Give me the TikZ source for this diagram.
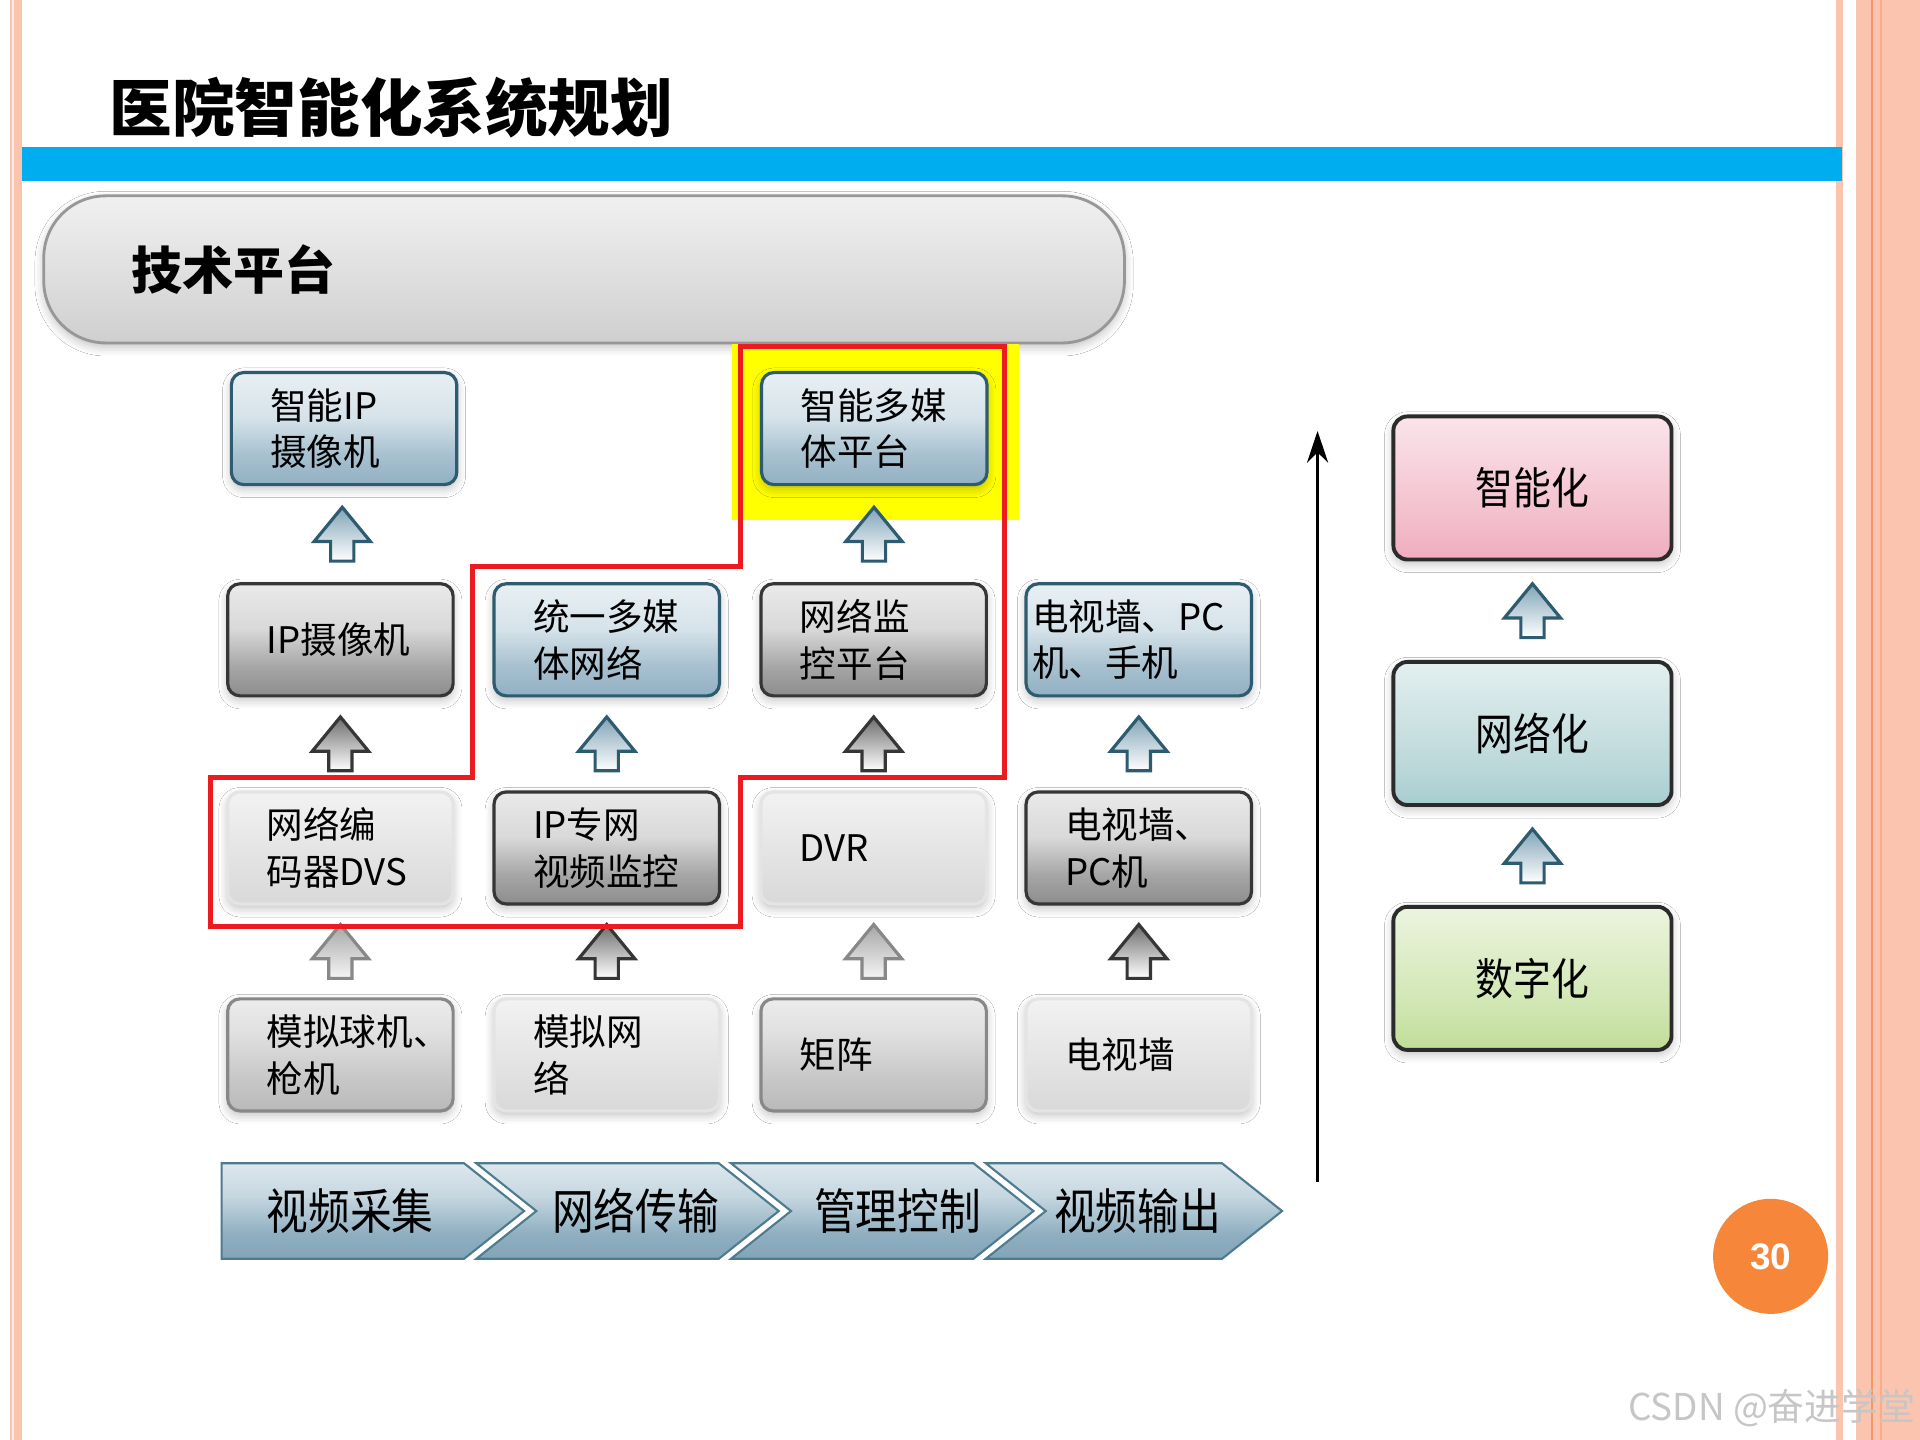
\documentclass[tikz,border=0pt]{standalone}
\usepackage{fontspec}
\setmainfont{Noto Sans CJK SC}
\newfontfamily\cjk{Noto Sans CJK SC}
\newfontfamily\cjkcond[FakeStretch=0.86]{Noto Sans CJK SC}
\newfontfamily\latinsans{Liberation Sans}
\usetikzlibrary{calc,shadows.blur,arrows.meta}

\definecolor{pinkstripe}{HTML}{FBC4AE}
\definecolor{orangeline}{HTML}{F4986A}
\definecolor{barblue}{HTML}{00AEEF}
\definecolor{bluedk}{HTML}{6A93AA}
\definecolor{bluemd}{HTML}{A6C0CF}
\definecolor{bluelt}{HTML}{D6E3EA}
\definecolor{blueborder}{HTML}{2D5B6F}
\definecolor{graydk}{HTML}{5C5C5C}
\definecolor{graymd}{HTML}{A6A6A6}
\definecolor{graylt}{HTML}{D9D9D9}
\definecolor{grayborder}{HTML}{363636}
\definecolor{lightdk}{HTML}{CDCDCD}
\definecolor{lightmd}{HTML}{E0E0E0}
\definecolor{lightborder}{HTML}{E4E4E4}
\definecolor{meddk}{HTML}{A0A0A0}
\definecolor{medmd}{HTML}{C8C8C8}
\definecolor{medborder}{HTML}{888888}
\definecolor{pinkdk}{HTML}{EA8EA8}
\definecolor{pinkmd}{HTML}{F3BFCD}
\definecolor{tealdk}{HTML}{85BABE}
\definecolor{tealmd}{HTML}{BDD9DA}
\definecolor{greendk}{HTML}{A6CF6C}
\definecolor{greenmd}{HTML}{D0E6B2}
\definecolor{capdk}{HTML}{BDBDBD}
\definecolor{capmd}{HTML}{D6D6D6}
\definecolor{caplt}{HTML}{EAEAEA}
\definecolor{chevdk}{HTML}{6990A6}
\definecolor{chevmd}{HTML}{8FAFC1}
\definecolor{chevlt}{HTML}{C6D7E1}
\definecolor{chevborder}{HTML}{4E7B8E}
\definecolor{orangecirc}{HTML}{F6873A}
\definecolor{yellowhl}{HTML}{FFFF00}
\definecolor{redline}{HTML}{EC1B1F}
\definecolor{rightborder}{HTML}{2B2B2B}

\pgfdeclareverticalshading{glossblue}{100bp}{color(0bp)=(bluedk); color(38bp)=(bluemd); color(55bp)=(bluelt); color(100bp)=(white)}
\pgfdeclareverticalshading{glossdark}{100bp}{color(0bp)=(graydk); color(38bp)=(graymd); color(55bp)=(graylt); color(100bp)=(white)}
\pgfdeclareverticalshading{glosslight}{100bp}{color(0bp)=(lightdk); color(40bp)=(lightmd); color(100bp)=(white)}
\pgfdeclareverticalshading{glossmed}{100bp}{color(0bp)=(meddk); color(40bp)=(medmd); color(60bp)=(lightmd); color(100bp)=(white)}
\pgfdeclareverticalshading{glosspink}{100bp}{color(0bp)=(pinkdk); color(40bp)=(pinkmd); color(100bp)=(white)}
\pgfdeclareverticalshading{glossteal}{100bp}{color(0bp)=(tealdk); color(40bp)=(tealmd); color(100bp)=(white)}
\pgfdeclareverticalshading{glossgreen}{100bp}{color(0bp)=(greendk); color(40bp)=(greenmd); color(100bp)=(white)}
\pgfdeclareverticalshading{glosscap}{100bp}{color(0bp)=(capdk); color(35bp)=(capmd); color(65bp)=(caplt); color(100bp)=(white)}
\pgfdeclareverticalshading{glosschev}{100bp}{color(0bp)=(chevdk); color(38bp)=(chevmd); color(58bp)=(chevlt); color(100bp)=(white)}

\tikzset{
  softshadow/.style={blur shadow={shadow blur steps=6, shadow xshift=0pt, shadow yshift=-1.2pt, shadow opacity=25, shadow blur radius=2.5pt}},
  gbox/.style={rectangle, rounded corners=3.5pt, minimum width=2.253cm, minimum height=1.12cm,
    inner xsep=0.39cm, inner ysep=0pt, text width=1.473cm, align=left,
    font=\cjk\fontsize{10.4}{13.2}\selectfont, line width=0.9pt, softshadow},
  bluebox/.style={gbox, draw=blueborder, shading=glossblue},
  darkbox/.style={gbox, draw=grayborder, shading=glossdark},
  lightbox/.style={gbox, draw=lightborder, shading=glosslight},
  medbox/.style={gbox, draw=medborder, shading=glossmed},
  rbox/.style={rectangle, rounded corners=4pt, minimum width=2.78cm, minimum height=1.43cm,
    draw=rightborder, line width=1.1pt, softshadow, font=\cjkcond\fontsize{12.5}{14}\selectfont},
  bluearrow/.style={draw=blueborder, line width=0.9pt, top color=bluedk!85, bottom color=white, line join=miter},
  darkarrow/.style={draw=grayborder, line width=0.9pt, top color=graydk!90, bottom color=white, line join=miter},
  lightarrow/.style={draw=medborder, line width=0.9pt, top color=graymd, bottom color=white!96!black, line join=miter},
  chev/.style={shading=glosschev, draw=chevborder, line width=0.6pt},
  chevtext/.style={font=\cjkcond\fontsize{13.8}{15}\selectfont, inner sep=0pt},
  redpath/.style={draw=redline, line width=1.4pt, line join=miter},
}

\newcommand{\blockarrow}[3]{%
  \coordinate (mid) at ($(#1.north)!0.5!(#2.south)$);
  \path[#3] ($(mid)+(-9.5,22)$) -- ($(mid)+(-9.5,6)$) -- ($(mid)+(-23,6)$) -- ($(mid)+(0,-22)$)
    -- ($(mid)+(23,6)$) -- ($(mid)+(9.5,6)$) -- ($(mid)+(9.5,22)$) -- cycle;}

\begin{document}
\begin{tikzpicture}[x=0.012245cm, y=-0.012245cm]
\useasboundingbox (0,0) rectangle (1568,1176);
\fill[white] (0,0) rectangle (1568,1176);

% side stripes
\fill[pinkstripe] (8,0) rectangle (18,1176);
\draw[white!70!pinkstripe, line width=0.4pt] (10.5,0) -- (10.5,1176);
\fill[pinkstripe] (1499,0) rectangle (1505,1176);
\fill[pinkstripe] (1516,0) rectangle (1568,1176);
\draw[orangeline, line width=0.6pt] (1529,0) -- (1529,1176);
\draw[orangeline!50!pinkstripe, line width=0.6pt] (1536,0) -- (1536,1176);

% title and bar
\node[anchor=west, inner sep=0pt, font=\cjk\bfseries\fontsize{17.8}{20}\selectfont] (title) at (89,88) {医院智能化系统规划};
\fill[barblue] (18,120) rectangle (1504,148);

% platform capsule
\node[rectangle, rounded corners=0.62cm, minimum width=10.8cm, minimum height=1.47cm,
  inner xsep=0.88cm, text width=9.04cm, align=left, shading=glosscap, draw=capdk!80!black, line width=0.8pt,
  softshadow, font=\cjk\bfseries\fontsize{14.5}{16}\selectfont] (platform) at (477,220) {技术平台};

% yellow highlight
\fill[yellowhl] (598,281) rectangle (832,425);

% grid boxes
\node[bluebox] (n11) at (281,350) {智能IP\\摄像机};
\node[bluebox] (n13) at (714,350) {智能多媒\\体平台};

\node[darkbox] (n21) at (278,522.5) {IP摄像机};
\node[bluebox] (n22) at (495.5,522.5) {统一多媒\\体网络};
\node[darkbox] (n23) at (713.5,522.5) {网络监\\控平台};
\node[bluebox, inner xsep=0.06cm, text width=2.13cm] (n24) at (930,522.5) {电视墙、PC\\机、手机};

\node[lightbox] (n31) at (278,692.5) {网络编\\码器DVS};
\node[darkbox] (n32) at (495.5,692.5) {IP专网\\视频监控};
\node[lightbox] (n33) at (713.5,692.5) {DVR};
\node[darkbox] (n34) at (930,692.5) {电视墙、\\PC机};

\node[medbox] (n41) at (278,861.5) {模拟球机、\\枪机};
\node[lightbox] (n42) at (495.5,861.5) {模拟网\\络};
\node[medbox] (n43) at (713.5,861.5) {矩阵};
\node[lightbox] (n44) at (930,861.5) {电视墙};

% block arrows
\blockarrow{n21}{n11}{bluearrow}
\blockarrow{n23}{n13}{bluearrow}
\blockarrow{n31}{n21}{darkarrow}
\blockarrow{n32}{n22}{bluearrow}
\blockarrow{n33}{n23}{darkarrow}
\blockarrow{n34}{n24}{bluearrow}
\blockarrow{n41}{n31}{lightarrow}
\blockarrow{n42}{n32}{darkarrow}
\blockarrow{n43}{n33}{lightarrow}
\blockarrow{n44}{n34}{darkarrow}

% red outline
\path[redpath] (172,635) -- (386,635) -- (386,463) -- (605,463) -- (605,283) -- (820,283)
  -- (820,635) -- (605,635) -- (605,757) -- (172,757) -- cycle;

% chevron bar
\path[chev] (181,950) -- (379,950) -- (428,989) -- (379,1028) -- (181,1028) -- cycle;
\path[chev] (389,950) -- (587,950) -- (636,989) -- (587,1028) -- (389,1028) -- (438,989) -- cycle;
\path[chev] (597,950) -- (795,950) -- (844,989) -- (795,1028) -- (597,1028) -- (646,989) -- cycle;
\path[chev] (805,950) -- (998,950) -- (1047,989) -- (998,1028) -- (805,1028) -- (854,989) -- cycle;
\node[chevtext] (c1) at (286,989) {视频采集};
\node[chevtext] (c2) at (519,989) {网络传输};
\node[chevtext] (c3) at (733,989) {管理控制};
\node[chevtext] (c4) at (929,989) {视频输出};

% vertical progress arrow
\coordinate (vbot) at (1076,965);
\coordinate (vtop) at (1076,352);
\draw[line width=0.8pt, -{Stealth[length=9pt, width=6pt]}] (vbot) -- (vtop);

% right column
\node[rbox, shading=glosspink] (r3) at (1251.5,398.5) {智能化};
\node[rbox, shading=glossteal] (r2) at (1251.5,599) {网络化};
\node[rbox, shading=glossgreen] (r1) at (1251.5,799) {数字化};
\blockarrow{r2}{r3}{bluearrow}
\blockarrow{r1}{r2}{bluearrow}

% page number
\node[circle, fill=orangecirc, minimum size=1.15cm, inner sep=0pt, text=white,
  font=\latinsans\bfseries\fontsize{10.5}{12}\selectfont] (pagenum) at (1446,1026) {30};

% watermark
\node[anchor=east, inner sep=0pt, text=gray!45, font=\cjk\fontsize{10.5}{12}\selectfont] (wm) at (1565,1150) {CSDN @奋进学堂};
\end{tikzpicture}
\end{document}
